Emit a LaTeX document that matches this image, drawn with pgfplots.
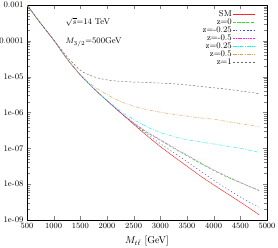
\documentclass[border=0pt]{standalone}
\usepackage{pgfplots}
\pgfplotsset{compat=1.18}
\newcommand{\tfont}{\fontsize{8.5}{10}\selectfont}
\definecolor{cSM}{RGB}{255,40,40}
\definecolor{cz0}{RGB}{40,225,40}
\definecolor{czm25}{RGB}{70,70,255}
\definecolor{czm5}{RGB}{240,40,240}
\definecolor{cz25}{RGB}{30,240,240}
\definecolor{cz5}{RGB}{220,160,90}
\definecolor{cz1}{RGB}{100,100,100}
\begin{document}
\begin{tikzpicture}
\begin{axis}[
  scale only axis, width=240bp, height=215bp,
  ymode=log, xmin=500, xmax=5000, ymin=1e-9, ymax=1e-3,
  xtick={500,1000,...,5000},
  ytick={1e-9,1e-8,1e-7,1e-6,1e-5,1e-4,1e-3},
  yticklabels={1e-09,1e-08,1e-07,1e-06,1e-05,0.0001,0.001},
  scaled x ticks=false,
  xticklabel style={/pgf/number format/1000 sep={}},
  tick label style={font=\tfont},
  xlabel={$M_{t\bar{t}}$\,\,[GeV]},
  xlabel style={font=\normalsize, yshift=-0.5pt},
  axis line style={line width=0.6pt},
  legend cell align=right, legend plot pos=right,
  legend style={at={(rel axis cs:0.9625,0.985)}, anchor=north east, draw=none, fill=none,
    font=\tfont, row sep=0.6pt,
    nodes={inner sep=0.6pt, text height=5.6pt, text depth=0.6pt}},
  legend image code/.code={\draw[#1] plot coordinates {(0bp,0bp) (22bp,0bp)};},
  every axis plot/.append style={line width=0.45pt, smooth},
]
\addplot[cSM] coordinates {(500,1.0e-3)(750,3.16e-4)(1000,1.05e-4)(1250,3.16e-5)(1500,1.12e-5)(1750,4.68e-6)(2000,2.14e-6)(2250,1.0e-6)(2500,4.68e-7)(2750,2.24e-7)(3000,1.12e-7)(3250,5.89e-8)(3500,3.16e-8)(3750,1.70e-8)(4000,9.55e-9)(4250,5.50e-9)(4500,3.16e-9)(4750,1.78e-9)(4850,1.41e-9)};
\addlegendentry{SM}
\addplot[cz0, dash pattern=on 3pt off 1.5pt] coordinates {(500,1.0e-3)(750,3.16e-4)(1000,1.05e-4)(1250,3.16e-5)(1500,1.12e-5)(1750,4.68e-6)(2000,2.14e-6)(2250,1.0e-6)(2500,5.01e-7)(2750,2.75e-7)(3000,1.66e-7)(3250,1.0e-7)(3500,6.17e-8)(3750,3.80e-8)(4000,2.40e-8)(4250,1.58e-8)(4500,1.10e-8)(4750,7.59e-9)(4850,6.61e-9)};
\addlegendentry{z=0}
\addplot[czm25, dash pattern=on 1.2pt off 2.3pt] coordinates {(500,1.0e-3)(750,3.16e-4)(1000,1.05e-4)(1250,3.16e-5)(1500,1.12e-5)(1750,4.68e-6)(2000,2.14e-6)(2250,1.0e-6)(2500,4.90e-7)(2750,2.51e-7)(3000,1.35e-7)(3250,7.59e-8)(3500,4.27e-8)(3750,2.34e-8)(4000,1.29e-8)(4250,7.41e-9)(4500,4.37e-9)(4750,2.69e-9)(4850,2.29e-9)};
\addlegendentry{z=-0.25}
\addplot[czm5, dash pattern=on 0.8pt off 0.9pt] coordinates {(500,1.0e-3)(750,3.16e-4)(1000,1.05e-4)(1250,3.16e-5)(1500,1.12e-5)(1750,4.68e-6)(2000,2.14e-6)(2250,1.0e-6)(2500,5.13e-7)(2750,2.88e-7)(3000,1.74e-7)(3250,1.05e-7)(3500,6.46e-8)(3750,3.98e-8)(4000,2.51e-8)(4250,1.66e-8)(4500,1.12e-8)(4750,7.76e-9)(4850,6.76e-9)};
\addlegendentry{z=-0.5}
\addplot[cz25, dash pattern=on 3.5pt off 1.5pt on 0.8pt off 1.5pt] coordinates {(500,1.0e-3)(750,3.16e-4)(1000,1.05e-4)(1250,3.16e-5)(1500,1.12e-5)(1750,4.68e-6)(2000,2.19e-6)(2250,1.10e-6)(2500,6.31e-7)(2750,3.98e-7)(3000,2.75e-7)(3250,2.14e-7)(3500,1.74e-7)(3750,1.51e-7)(4000,1.32e-7)(4250,1.15e-7)(4500,1.0e-7)(4750,8.32e-8)(4850,7.76e-8)};
\addlegendentry{z=0.25}
\addplot[cz5, dash pattern=on 3.5pt off 1.5pt on 0.8pt off 1.5pt] coordinates {(500,1.0e-3)(750,3.16e-4)(1000,1.05e-4)(1250,3.16e-5)(1500,1.12e-5)(1750,5.37e-6)(2000,3.16e-6)(2250,2.04e-6)(2500,1.51e-6)(2750,1.20e-6)(3000,1.02e-6)(3250,8.91e-7)(3500,7.94e-7)(3750,7.08e-7)(4000,6.46e-7)(4250,5.62e-7)(4500,4.90e-7)(4750,4.27e-7)(4850,3.98e-7)};
\addlegendentry{z=0.5}
\addplot[cz1, dash pattern=on 2pt off 2pt] coordinates {(500,1.0e-3)(750,3.16e-4)(1000,1.07e-4)(1250,3.63e-5)(1500,1.51e-5)(1750,1.0e-5)(2000,8.13e-6)(2250,7.41e-6)(2500,7.08e-6)(2750,6.92e-6)(3000,6.61e-6)(3250,6.31e-6)(3500,5.89e-6)(3750,5.37e-6)(4000,4.90e-6)(4250,4.47e-6)(4500,3.98e-6)(4750,3.55e-6)(4850,3.31e-6)};
\addlegendentry{z=1}
\node[anchor=west, font=\tfont] at (rel axis cs:0.146,0.921) {$\sqrt{s}$=14 TeV};
\node[anchor=west, font=\tfont] at (rel axis cs:0.146,0.828) {$M_{3/2}$=500GeV};
\end{axis}
\pgfresetboundingbox
\path (-27bp,-28bp) rectangle (251bp,220bp);
\end{tikzpicture}
\end{document}
